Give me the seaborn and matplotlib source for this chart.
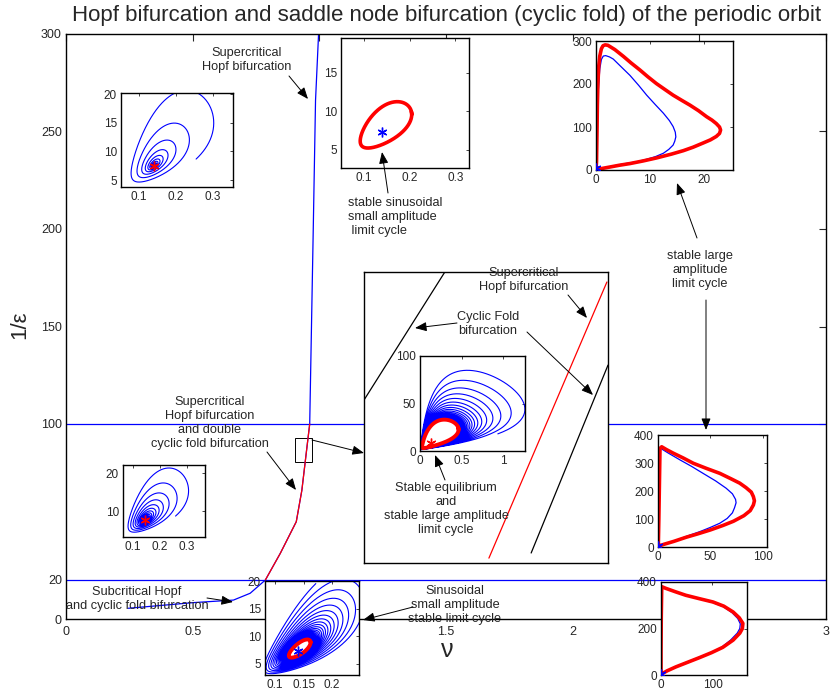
import numpy as np
import matplotlib
matplotlib.use("Agg")
import matplotlib.pyplot as plt
import seaborn as sns

sns.set_style("white")
plt.rcParams["font.family"] = ["Liberation Sans", "DejaVu Sans"]

W, H = 831, 696
BLUE, RED = "#0000ff", "#ff0000"

# ---------------- bifurcation diagram (nu, 1/eps) ----------------
sub_nu = [0.246, 0.503, 0.661, 0.727, 0.787]
sub_inv_eps = [5.5, 8.4, 9.7, 13.2, 20]
fold_nu = [0.787, 0.846, 0.909, 0.931, 0.951, 0.962]
fold_inv_eps = [20, 33.7, 49.9, 66, 88, 100]
sup_nu = [0.962, 0.976, 0.985, 0.997]
sup_inv_eps = [100, 200, 266, 300]
levels = [20, 100]

zoom_nu = [0.905, 0.972]
zoom_inv_eps = [80.5, 93.0]
zoom_fold_left = ([0.905, 0.9272], [87.5, 93.0])
zoom_hopf = ([0.9393, 0.9717], [80.71, 92.57])
zoom_fold_right = ([0.9509, 0.972], [80.93, 89.0])

x_ticks = [0, 0.5, 1, 1.5, 2, 2.5, 3]
x_ticklabels = ["0", "0.5", "1", "1.5", "2", "2.5", "3"]
y_ticks = [0, 20, 100, 150, 200, 250, 300]

# ---------------- phase portraits ----------------
# orbit shape: centre (cx, cy), log-amplitudes and tilt
shape_a = (0.14, 7.5, 0.70, 0.03, 0.8, 0.22, 0.64)
shape_b = (0.14, 7.3, 0.40, -0.02, 0.385, 0.045, 0.62)
shape_d = (0.145, 7.7, 0.66, 0.05, 0.8, 0.2, 0.64)
shape_e = (0.141, 7.4, 0.515, 0.025, 0.825, 0.105, 0.82)
shape_f = (0.12, 9.0, 1.45, -0.1, 1.2, 0.1, 0.75)

# large amplitude relaxation cycles (read along the orbit)
cyc_c_x = [0.0, 0.1, 0.15, 0.2, 0.25, 0.35, 0.5, 0.7, 1.0, 1.3, 1.7, 2.2, 2.6, 3.5, 5.1,
           6.5, 8.1, 9.6, 11.2, 12.8, 14.3, 15.9, 17.4, 19.0, 20.5, 21.5, 22.3, 22.9,
           23.1, 22.9, 22.3, 21.2, 19.9, 18.0, 16.2, 14.0, 11.2, 8.7, 6.3, 4.3, 2.6,
           1.3, 0.4, 0.0]
cyc_c_y = [0, 20, 60, 100, 150, 200, 240, 265, 282, 289, 291, 290, 287, 280, 264,
           249, 233, 217, 201, 187, 174, 162, 151, 138, 124, 116, 108, 100,
           93, 85, 78, 70, 63, 53, 45, 37, 28, 21, 15, 11, 7,
           4, 2, 0]
traj_c_x = [0.1, 0.2, 0.4, 0.7, 1.0, 1.35, 1.8, 2.5, 3.2, 4.5, 6.3, 7.9, 9.4, 11.0,
            12.5, 13.6, 14.3, 14.7, 14.8, 14.6, 14.3, 13.5, 12.5, 11.0, 9.4, 7.5,
            5.0, 3.0, 1.5]
traj_c_y = [30, 100, 180, 235, 257, 265, 266, 263, 258, 242, 220, 197, 174, 152,
            132, 115, 101, 88, 77, 67, 58, 48, 39, 31, 25, 19, 14, 9, 5]

cyc_g_x = [0.3, 0.8, 1.3, 1.9, 3.5, 8, 14.6, 24, 33.7, 46, 59, 70, 78, 84, 89, 91,
           92, 91, 88, 82, 72, 62, 50, 38, 27, 15, 6, 2, 0.3]
cyc_g_y = [7, 100, 215, 352, 358, 348, 335, 318, 299, 281, 263, 243, 228, 212, 196,
           180, 165, 150, 130, 112, 92, 77, 61, 47, 35, 20, 10, 5, 7]
traj_g_x = [3.5, 10, 21, 32, 43, 55, 65, 71, 74, 74.5, 73, 71, 66, 59, 50, 40, 30, 20]
traj_g_y = [350, 335, 311, 288, 263, 236, 210, 190, 170, 158, 140, 122, 102, 85, 70,
            55, 42, 28]

cyc_h_x = [0, 0, 0.5, 1.4, 9, 28, 48, 75, 101, 122, 140, 152, 159, 158, 153, 140,
           120, 98, 75, 52, 29, 12, 0]
cyc_h_y = [3, 100, 250, 380, 373, 358, 343, 328, 314, 296, 271, 246, 222, 200, 180,
           150, 119, 96, 75, 55, 35, 18, 3]
traj_h_x = [9, 28, 48, 75, 100, 121, 138, 149, 154, 153, 148, 135, 118, 97, 74, 51,
            29, 12]
traj_h_y = [372, 357, 342, 327, 312, 294, 268, 243, 220, 200, 180, 150, 120, 96, 76,
            56, 36, 19]


def orbit(shape, r0, r_inf, ratio, theta0, turns, n):
    cx, cy, au, bu, av, bv, phi = shape
    t = np.linspace(0, 2 * np.pi * turns, n)
    r = r_inf + (r0 - r_inf) * ratio ** (t / (2 * np.pi))
    th = theta0 + t
    u = r * (au * np.cos(th) + bu)
    v = r * (av * np.sin(th + phi) + bv)
    return cx * np.exp(u), cy * np.exp(v)


def line(ax, x, y, color, lw):
    sns.lineplot(x=np.asarray(x), y=np.asarray(y), sort=False, estimator=None,
                 color=color, lw=lw, ax=ax)


def star(ax, x, y, color):
    ax.plot([x], [y], marker=(6, 2, 0), ms=7, mew=1.0, color=color, zorder=5)


fig = plt.figure(figsize=(W / 100, H / 100), dpi=100)


def px_axes(l, t, r, b, z):
    return fig.add_axes([l / W, 1 - b / H, (r - l) / W, (b - t) / H], zorder=z)


# ---------------- main axes ----------------
ax = px_axes(66, 34, 826, 619, 0)
ax.set_xlim(0, 3)
ax.set_ylim(0, 300)
for lv in levels:
    ax.axhline(lv, color=BLUE, lw=0.9)
line(ax, sub_nu + fold_nu[1:] + sup_nu[1:], sub_inv_eps + fold_inv_eps[1:] + sup_inv_eps[1:], BLUE, 0.9)
line(ax, fold_nu, fold_inv_eps, RED, 0.9)
ax.add_patch(plt.Rectangle((zoom_nu[0], zoom_inv_eps[0]), zoom_nu[1] - zoom_nu[0],
                           zoom_inv_eps[1] - zoom_inv_eps[0], fill=False, ec="k", lw=0.7))
ax.set_xticks(x_ticks)
ax.set_xticklabels(x_ticklabels)
ax.set_yticks(y_ticks)
ax.tick_params(direction="in", length=5, width=0.8, labelsize=9, top=True, right=True,
               pad=5)
ax.tick_params(axis="y", pad=3)
for s in ax.spines.values():
    s.set_visible(True)
    s.set_color("k")
    s.set_linewidth(1.0)
ax.set_xlabel("")
ax.set_ylabel("")

fig.text(447 / W, 1 - 16 / H,
         "Hopf bifurcation and saddle node bifurcation (cyclic fold) of the periodic orbit",
         ha="center", va="center", fontsize=16)
fig.text(447 / W, 1 - 650 / H, "ν", ha="center", va="center", fontsize=18)
fig.text(20 / W, 1 - 325 / H, "1/ε", ha="center", va="center", fontsize=16, rotation=90)


def inset(box, xlim, ylim, xt, xtl, yt, ytl, z=3):
    a = px_axes(*box, z)
    a.set_facecolor("white")
    a.set_xlim(xlim)
    a.set_ylim(ylim)
    a.set_xticks(xt)
    a.set_xticklabels(xtl)
    a.set_yticks(yt)
    a.set_yticklabels(ytl)
    a.tick_params(direction="in", length=2.5, width=0.6, labelsize=8.5, top=True,
                  right=True, pad=3)
    for s in a.spines.values():
        s.set_visible(True)
        s.set_color("k")
        s.set_linewidth(1.0)
    return a


# A: damped spiral to the stable focus
a = inset((121, 93, 233, 187), (0.051, 0.354), (3.8, 20.2), [0.1, 0.2, 0.3],
          ["0.1", "0.2", "0.3"], [5, 10, 15, 20], ["5", "10", "15", "20"])
xs, ys = orbit(shape_a, 1.1, 0.0, 0.68, -0.75, 12, 4000)
line(a, xs, ys, BLUE, 0.8)
star(a, 0.14, 7.5, RED)

# B: small sinusoidal limit cycle
b = inset((341, 38, 469, 168), (0.05, 0.33), (2.6, 19.5), [0.1, 0.2, 0.3],
          ["0.1", "0.2", "0.3"], [5, 10, 15], ["5", "10", "15"])
xs, ys = orbit(shape_b, 1.0, 1.0, 1.0, 0.0, 1.02, 600)
line(b, xs, ys, RED, 2.6)
star(b, 0.14, 7.3, BLUE)

# C: large amplitude cycle
c = inset((596, 41, 733, 170), (0, 25.4), (0, 300), [0, 10, 20], ["0", "10", "20"],
          [0, 100, 200, 300], ["0", "100", "200", "300"])
line(c, traj_c_x, traj_c_y, BLUE, 0.9)
line(c, cyc_c_x, cyc_c_y, RED, 2.6)
star(c, 0.0, 5, BLUE)

# D: damped spiral
d = inset((123, 465, 205, 537), (0.063, 0.367), (3.2, 22.1), [0.1, 0.2, 0.3],
          ["0.1", "0.2", "0.3"], [10, 20], ["10", "20"])
xs, ys = orbit(shape_d, 1.08, 0.0, 0.8, -0.75, 20, 6000)
line(d, xs, ys, BLUE, 0.8)
star(d, 0.145, 7.7, RED)

# E: spiral onto the small limit cycle
e = inset((265, 581, 359, 675), (0.0825, 0.247), (3.0, 20.0), [0.1, 0.15, 0.2],
          ["0.1", "0.15", "0.2"], [5, 10, 15, 20], ["5", "10", "15", "20"])
xs, ys = orbit(shape_e, 1.2, 0.26, 0.87, 1.3, 50, 14000)
line(e, xs, ys, BLUE, 0.8)
xs, ys = orbit(shape_e, 0.26, 0.26, 1.0, 0.0, 1.02, 600)
line(e, xs, ys, RED, 2.8)
star(e, 0.141, 7.4, BLUE)

# Z: magnified neighbourhood of the codimension-two region
z = px_axes(364, 272, 608, 563, 2)
z.set_facecolor("white")
z.set_xlim(zoom_nu)
z.set_ylim(zoom_inv_eps)
z.set_xticks([])
z.set_yticks([])
for s in z.spines.values():
    s.set_visible(True)
    s.set_color("k")
    s.set_linewidth(1.0)
line(z, *zoom_fold_left, "k", 0.9)
line(z, *zoom_hopf, RED, 0.9)
line(z, *zoom_fold_right, "k", 0.9)

# F: spiral onto the large amplitude cycle
f = inset((420, 356, 525, 451), (0, 1.26), (0, 100), [0, 0.5, 1], ["0", "0.5", "1"],
          [0, 50, 100], ["0", "50", "100"], z=4)
xs, ys = orbit(shape_f, 1.75, 1.0, 0.86, -0.5, 35, 12000)
line(f, xs, ys, BLUE, 0.8)
xs, ys = orbit(shape_f, 1.0, 1.0, 1.0, 0.0, 1.02, 800)
line(f, xs, ys, RED, 2.8)
star(f, 0.13, 8, RED)

# G, H: large amplitude cycles
g = inset((658, 435, 767, 547), (0, 104), (0, 400), [0, 50, 100], ["0", "50", "100"],
          [0, 100, 200, 300, 400], ["0", "100", "200", "300", "400"])
line(g, traj_g_x, traj_g_y, BLUE, 0.9)
line(g, cyc_g_x, cyc_g_y, RED, 2.6)
star(g, 0.0, 4, BLUE)

h = inset((661, 582, 747, 675), (0, 167), (0, 400), [0, 100], ["0", "100"],
          [0, 200, 400], ["0", "200", "400"])
line(h, traj_h_x, traj_h_y, BLUE, 0.9)
line(h, cyc_h_x, cyc_h_y, RED, 2.6)
star(h, 0.0, 3, BLUE)

# ---------------- annotations ----------------
ov = fig.add_axes([0, 0, 1, 1], zorder=10)
ov.set_xlim(0, W)
ov.set_ylim(H, 0)
ov.axis("off")
ov.patch.set_alpha(0)

notes = [
    ("Supercritical\nHopf bifurcation", (247, 60), "center"),
    ("stable sinusoidal\nsmall amplitude\n limit cycle", (348, 217), "left"),
    ("stable large\namplitude\nlimit cycle", (700, 270), "center"),
    ("Supercritical\nHopf bifurcation\nand double\ncyclic fold bifurcation", (210, 423), "center"),
    ("Subcritical Hopf\nand cyclic fold bifurcation", (137, 599), "center"),
    ("Sinusoidal\nsmall amplitude\nstable limit cycle", (455, 605), "center"),
    ("Supercritical\nHopf bifurcation", (524, 280), "center"),
    ("Cyclic Fold\nbifurcation", (488, 324), "center"),
    ("Stable equilibrium\nand\nstable large amplitude\nlimit cycle", (446, 509), "center"),
]
for txt, (x, y), ha in notes:
    ov.text(x, y, txt, ha=ha, va="center", fontsize=9.2, linespacing=1.22,
            multialignment="left" if ha == "left" else "center")

arrows = [
    ((289, 76), (308, 99)),
    ((388, 193), (382, 152)),
    ((697, 238), (677, 183)),
    ((706, 300), (706, 430)),
    ((267, 452), (296, 490)),
    ((207, 598), (233, 602)),
    ((413, 607), (363, 620)),
    ((568, 295), (587, 318)),
    ((457, 323), (415, 328)),
    ((527, 332), (593, 395)),
    ((445, 480), (435, 455)),
    ((312, 440), (364, 453)),
]
for tail, head in arrows:
    ov.annotate("", xy=head, xytext=tail,
                arrowprops=dict(arrowstyle="-|>,head_length=0.7,head_width=0.28",
                                color="k", lw=0.7, shrinkA=0, shrinkB=0))

fig.savefig("out.png", dpi=100)
